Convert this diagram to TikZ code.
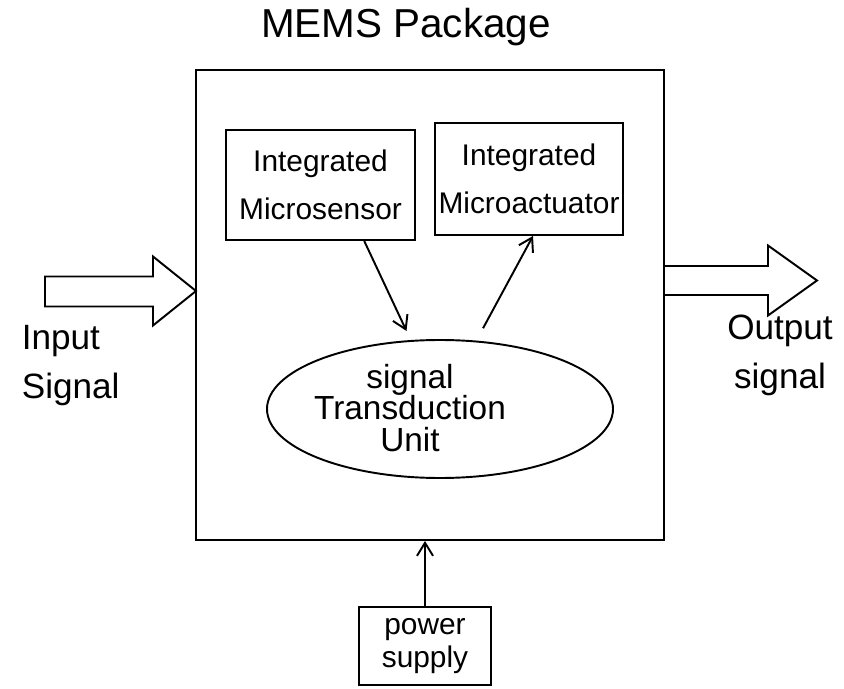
\documentclass[tikz,border=0pt]{standalone}
\usepackage{fontspec}
\setmainfont{Liberation Sans}
\usetikzlibrary{shapes.geometric,arrows.meta}

\begin{document}
\begin{tikzpicture}[>={Straight Barb[length=2.6mm,width=3.2mm]},line width=1.1pt,
    partbox/.style={draw,inner sep=2pt,align=center,font=\fontsize{17}{27}\selectfont},
    sigtext/.style={font=\fontsize{20}{28}\selectfont}]
\useasboundingbox (0,0) rectangle (16.88,13.76);

    \node (title) at (8.12,13.22){\fontsize{23}{26}\selectfont MEMS Package};
\node (pkg) at (8.60,7.66)[draw,minimum width=9.36cm,minimum height=9.40cm]{};

% sensor and actuator on the chip
\node (sensor) at (6.41,10.06)[partbox,minimum width=3.78cm,minimum height=2.20cm]{Integrated\\Microsensor};
\node (actuator) at (10.58,10.18)[partbox,minimum width=3.76cm,minimum height=2.24cm]{Integrated\\Microactuator};

\node (stu) at (8.80,5.58)[draw,ellipse,inner sep=0,minimum width=6.92cm,minimum height=2.76cm]{};
\node (stutext) at (8.20,5.60)[align=center,font=\fontsize{19}{18}\selectfont]{signal\\Transduction\\Unit};

\draw[->,shorten >=.2cm](sensor.-52)--(stu.113);
\draw[->,shorten <=.28cm](stu.62)--(actuator.-86);

% input and output block arrows
\draw(.90,7.63)--(3.06,7.63)--(3.06,7.25)--(3.92,7.94)--(3.06,8.63)--(3.06,8.23)--(.90,8.23)--cycle;
\draw(13.28,7.86)--(15.36,7.86)--(15.36,7.45)--(16.34,8.15)--(15.36,8.85)--(15.36,8.44)--(13.28,8.44);
\node (insig) at (.30,6.45)[anchor=west,align=left,sigtext]{Input\\Signal};
\node (outsig) at (15.60,6.66)[align=center,sigtext]{Output\\signal};

% supply from below
\node (power) at (8.50,.84)[partbox,font=\fontsize{17}{19}\selectfont,minimum width=2.64cm,minimum height=1.56cm]{power\\supply};
\draw[->](power.north)--(power.north |- pkg.south);
\end{tikzpicture}
\end{document}
